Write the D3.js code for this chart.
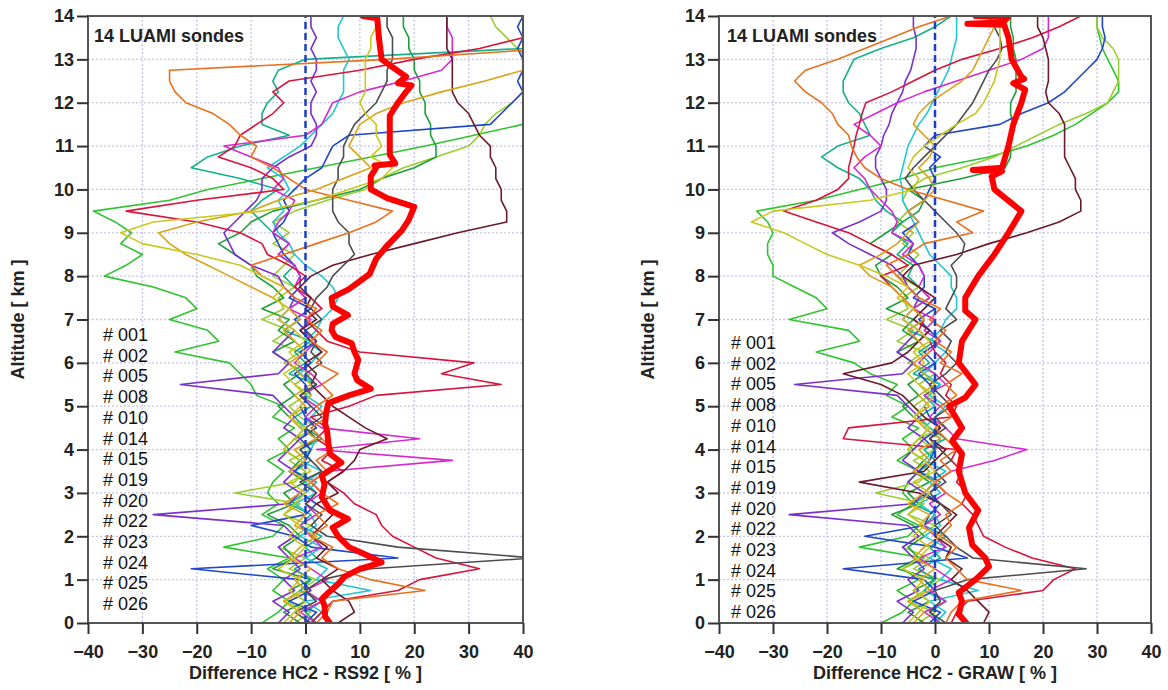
<!DOCTYPE html>
<html>
<head>
<meta charset="utf-8">
<style>
    body { margin: 0; background: #fff; }
    text { font-family: "Liberation Sans", Arial, sans-serif; }
    .tick text { font-size: 18px; font-weight: bold; fill: #222; }
    .tick line { stroke: #333; stroke-width: 2; }
    .domain { display: none; }
</style>
</head>
<body>
<svg width="1168" height="690"></svg>
<script src="https://d3js.org/d3.v7.min.js"></script>
<script>

    // altitude levels [km] shared by every sonde profile
    var altitude = [0,0.25,0.5,0.75,1,1.25,1.5,1.75,2,2.25,2.5,2.75,3,3.25,3.5,3.75,4,4.25,4.5,4.75,5,5.25,5.5,5.75,6,6.25,6.5,6.75,7,7.25,7.5,7.75,8,
        8.25,8.5,8.75,9,9.25,9.5,9.75,10,10.25,10.5,10.75,11,11.25,11.5,11.75,12,12.25,12.5,12.75,13,13.25,13.5,13.75,14];

    var sondes = ["# 001","# 002","# 005","# 008","# 010","# 014","# 015","# 019","# 020","# 022","# 023","# 024","# 025","# 026"];
    var colors = ["#2fc42f","#9acd32","#1f9e3a","#14b08a","#22c8d0","#1f47c8","#7b2fd0","#d62ad0","#d8143c","#6b1a2a","#4d4d4d","#e8701e","#d9a31a","#c8c820"];

    var xTicks = [-40,-30,-20,-10,0,10,20,30,40];
    var yTicks = [0,1,2,3,4,5,6,7,8,9,10,11,12,13,14];

    // HC2 - RS92 differences [%]
    var rs92_001 = [-8,-5,-3,-6,-4,-7,-3,-15,-6,-4,-8,-5,-7,-6,-4,-7,-3,-5,-2,-6,-4,-9,-10,-12,-14,-24,-16,-18,-25,-20,-22,-28,-37,
        -33,-30,-34,-32,-35,-39,-25,-18,-8,2,12,22,31,40,46,46,46,46,46,46,46,46,46,46];
    var rs92_002 = [-2,1,-4,-1,2,-3,0,-5,-2,1,-4,-1,-13,-2,0,-3,1,-2,2,-1,-3,0,-2,1,-4,-1,-6,-3,-8,-4,-5,-2,-6,
        -4,-2,-6,-3,-6,-2,4,11,14,18,24,30,32,33,35,38,40,41,42,41,39,37,35,34];
    var rs92_005 = [-1,-4,0,-3,1,-6,-2,-4,-1,-3,-7,-2,-4,0,-3,-1,-4,-2,0,-3,-5,-2,-4,-1,-3,-6,-2,-5,-3,-8,-4,-6,-9,
        -10,-13,-16,-12,-10,-6,2,10,14,20,24,24,23,23,22,22,21,21,20,20,19,19,18,18];
    var rs92_008 = [2,0,3,-1,1,-2,2,0,3,-1,1,-3,0,2,-2,1,-1,3,0,-2,1,-1,2,-3,0,-2,1,-4,-1,-3,0,-2,-4,
        -2,-5,-3,-6,-8,-10,-8,-5,-12,-21,-18,-12,-3,-8,-8,-7,-5,-6,-5,0,40,46,46,46];
    var rs92_010 = [1,3,0,12,2,4,0,3,-1,2,1,-2,2,0,3,-1,1,2,-1,1,3,0,2,-1,1,3,0,2,3,5,6,5,3,
        0,-2,-3,-5,-6,-4,-5,-3,-4,-7,-4,-1,1,3,5,6,7,7,7,8,7,6,6,7];
    var rs92_014 = [0,2,-3,1,-1,-21,17,1,-2,-10,0,2,-1,1,-2,0,1,-1,2,0,-1,1,0,-2,1,-1,2,0,-2,1,-3,-1,-1,
        -2,-4,-5,-6,-4,-3,-4,-2,0,3,4,5,8,34,36,38,40,39,40,40,39,40,39,40];
    var rs92_015 = [-5,-3,-6,-2,-4,-1,-3,-5,-2,-4,-28,-3,-1,-4,-2,-5,-3,-1,-4,-2,-4,-6,-23,-5,-3,-6,-4,-2,-5,-3,-2,-4,-5,
        -10,-13,-14,-15,-13,-11,-9,-8,-8,-6,-3,1,2,2,1,1,2,1,2,2,1,2,1,1];
    var rs92_019 = [2,-1,3,0,4,1,-2,3,1,-1,2,0,3,1,4,27,2,21,3,0,2,-1,3,1,-2,0,2,-1,1,-3,0,-2,-1,
        -2,-5,-3,-6,-5,-3,-2,-6,-4,-5,-10,-15,0,3,4,5,10,18,25,27,27,27,26,26];
    var rs92_020 = [1,3,5,17,21,32,24,20,16,14,13,9,7,4,7,3,5,2,4,1,8,13,36,25,31,10,4,2,0,3,1,-2,0,
        -3,-7,-8,-12,-20,-33,-20,-4,-6,-10,-16,-13,-12,-9,-6,-4,-6,-3,10,20,32,40,46,46];
    var rs92_022 = [6,9,8,5,3,6,2,4,1,3,5,2,6,4,7,9,10,15,11,8,5,3,1,2,0,3,1,-1,2,0,1,-1,1,
        5,12,20,28,37,37,36,36,35,35,34,34,32,31,30,28,27,27,27,27,26,26,26,26];
    var rs92_023 = [1,-2,2,0,3,12,42,17,4,1,3,0,2,-1,3,1,-1,2,0,3,1,-1,2,0,3,1,2,0,3,1,2,4,5,
        7,9,8,8,6,5,5,5,6,6,7,7,8,9,11,13,14,15,15,16,16,16,15,15];
    var rs92_024 = [2,4,5,22,12,6,3,5,1,4,2,6,3,1,4,2,5,3,1,4,2,5,3,6,2,4,1,3,0,2,-2,-4,-8,
        -10,-4,2,8,13,16,8,0,-3,-6,-10,-9,-12,-14,-17,-22,-24,-25,-25,15,45,46,46,46];
    var rs92_025 = [-3,-1,-4,0,-2,1,-3,-1,2,-2,0,-4,-1,1,-3,0,-2,2,-1,-3,0,-2,1,-1,-3,0,-2,-4,-1,-3,-6,-10,-14,
        -18,-22,-25,-27,-20,-10,-5,2,7,12,10,8,9,10,13,18,25,33,40,46,46,46,46,46];
    var rs92_026 = [-4,-2,0,-3,-1,-5,-2,0,-3,-1,-4,-2,0,-3,1,-1,-4,-2,0,-3,-1,1,-2,-4,-1,-3,0,-2,-5,-3,-6,-4,-8,
        -12,-20,-30,-34,-28,-8,2,8,14,16,12,14,13,13,11,10,11,11,11,11,12,12,13,13];

    var rs92_mean_alt = [0,0.15,0.4,0.55,0.7,0.9,1.07,1.25,1.4,1.55,1.75,2,2.2,2.4,2.6,2.9,3.2,3.4,3.7,3.9,4.15,4.4,4.6,4.85,5.07,5.25,5.4,5.6,5.75,6.07,6.25,6.45,6.6,6.75,6.9,7.1,7.3,7.5,7.7,
        8.05,8.4,8.7,9.05,9.3,9.6,9.8,10,10.3,10.5,10.55,10.6,10.8,11,11.4,11.7,12,12.25,12.4,12.45,12.6,13,13.5,13.95,14];
    var rs92_mean = [4.5,3.6,3.5,3,4.2,6,7.2,10,14,11.5,8,6,5,7.8,4.5,3,3.5,3,6.6,4.5,4.2,4,3.6,3.8,4.2,8,12,9.5,9,9.7,9,8.5,5.5,4.8,5,7.8,5,4.8,8,
        11.8,13,15,17.7,19,20,15,12,12,13,12.7,16.5,15.5,15.5,15.5,15.5,17,18.5,19.5,17,18.5,14,13.5,13.2,10.5];

    // HC2 - GRAW differences [%]
    var graw_001 = [-10,-6,-4,-7,-3,-6,-2,-14,-5,-3,-7,-4,-6,-5,-3,-7,-4,-6,-3,-8,-5,-9,-7,-12,-15,-22,-14,-16,-27,-20,-22,-26,-30,
        -30,-31,-31,-30,-31,-33,-22,-14,-6,0,10,17,22,26,29,32,34,34,33,32,31,30.5,30,30];
    var graw_002 = [-3,0,-5,-2,1,-4,-1,-6,-3,0,-5,-2,-11,-3,-1,-4,0,-3,1,-2,-4,-1,-3,0,-5,-2,-7,-4,-9,-5,-6,-3,-7,
        -5,-3,-6,-4,-7,-5,-6,-5,-2,5,11,15,19,23,28,32,33,34,34,34,33,31,30,30];
    var graw_005 = [-2,-5,-1,-4,0,-7,-3,-5,-2,-4,-8,-3,-5,-1,-4,-2,-5,-3,-1,-4,-6,-3,-5,-2,-4,-7,-3,-6,-4,-9,-5,-7,-10,
        -11,-8,-12,-9,-6,-3,-2,-5,5,13,14,14,14,14.5,14,14,15,15,15,15,14.5,14.5,14,14];
    var graw_008 = [1,-1,2,-2,0,-3,1,-1,2,-2,0,-4,-1,1,-3,0,-2,2,-1,-3,0,-2,1,-4,-1,-3,0,-5,-2,-4,-1,-3,-5,
        -4,-7,-5,-8,-6,-9,-11,-12,-14,-18,-21,-18,-12,-13,-14,-16,-17,-17,-16,-15,-10,-4,0,3];
    var graw_010 = [0,2,-1,8,1,3,-1,2,-2,1,0,-3,1,-1,2,-2,0,1,-2,0,2,-1,1,-2,0,2,-1,1,2,4,4,3,3,
        1,-1,-2,-3,-4,-5,-6,-6,-6.5,-6,-5.5,-5,-4,-3,-1.5,-0.5,0.5,1.5,2.5,3,3.5,4,4,4];
    var graw_014 = [-1,1,-4,0,-2,-17,6,0,-13,-2,-1,1,-2,0,-3,-1,0,-2,1,-1,-2,0,-1,-3,0,-2,1,-1,-3,0,-4,-2,-2,
        -3,-5,-4,-6,-3,-5,-2,-1,0,-1,1,-2,0,12,16,21,24,26,28,30,31,31.5,31,31];
    var graw_015 = [-6,-4,-7,-3,-5,-2,-4,-6,-3,-5,-27,-4,-2,-5,-3,-6,-4,-2,-5,-3,-5,-7,-26,-6,-4,-7,-5,-3,-6,-4,-3,-5,-6,
        -8,-12,-16,-19,-14,-10,-9,-9,-10,-11,-11,-10,-9.5,-8.5,-8,-7,-6,-5.5,-4.5,-4,-3.5,-3.5,-4,-4];
    var graw_019 = [1,-2,2,-1,3,0,-3,2,0,-2,1,-1,2,0,3,11,17,4,2,-1,1,-2,2,0,-3,-1,1,-2,0,-4,-1,-3,-2,
        -3,-6,-4,-8,-7,-8,-10,-12,-13,-15,-13,-10,-12,-15,-11,-7,-2,4,10,16,20,21,21,21];
    var graw_020 = [3,4,6,20,22,26,18,13,9,8,7,5,6,4,5,3,4,-17,-16,3,4,2,3,1,2,0,-1,-3,-2,-4,-6,-8,-10,
        -5,-8,-12,-16,-22,-28,-22,-18,-16,-16,-15.5,-15,-14.6,-14,-13.5,-12.8,-8,-4,0,5,12,18,23,27];
    var graw_022 = [9,10,8,6,3,5,2,3,0,2,4,1,-3,-14,-2,0,2,-1,1,-2,-4,-6,-10,-17,-8,-5,-3,-1,-4,-2,0,-3,-6,
        -4,4,10,17,23,27,27,26,26,25,24,24,24,24,23,21,20.5,21,21,21,20.5,20,19,19];
    var graw_023 = [2,-1,1,0,6,28,7,4,2,0,3,1,-1,2,0,3,1,-1,2,0,3,1,-1,2,4,2,3,1,4,2,3,4,4,
        3,5,5.5,4,2,0,-2,-4,-5.5,-4,-2,0,2,4,5.5,7,8,9,10,11.5,12.4,12,11,10];
    var graw_024 = [2,3,5,16,6,4,2,4,1,3,2,5,2,0,3,1,4,2,0,3,1,4,2,5,1,3,0,2,-1,1,-3,-5,-7,
        -9,-5,-2,7,4,9,2,-5,-10,-13,-14.5,-15.5,-16,-18,-19,-21,-24,-26,-24,-18,-13,-8,-3,3];
    var graw_025 = [-4,-2,-5,-1,-3,0,-4,-2,1,-3,-1,-5,-2,0,-4,-1,-3,1,-2,-4,-1,-3,0,-2,-4,-1,-3,-5,-2,-4,-6,-8,-12,
        -14,-10,-7,-5,-3,-5,-2,0,-1,-3,-1,0,-2,-4,-3,-1,2,5,7,8,9,10,11,12];
    var graw_026 = [-5,-3,-1,-4,-2,-6,-3,-1,-4,-2,-5,-3,-1,-4,0,-2,-5,-3,-1,-4,-2,0,-3,-5,-2,-4,-1,-3,-6,-4,-7,-5,-9,
        -14,-20,-24,-28,-34,-30,-12,-4,-3,-5,-4,-2,1,4,7.5,9,10,11,11.5,12,12,12,12,12];

    var graw_mean_alt = [0,0.2,0.5,0.7,1,1.3,1.5,1.8,2.2,2.6,3,3.5,3.9,4.2,4.5,5,5.2,5.5,6,6.5,7,7.2,7.5,8,8.5,9,9.5,10,10.3,10.42,10.45,10.5,
        11,11.5,12,12.3,12.45,12.55,12.6,13,13.5,13.8,13.82,13.85,13.97,14];
    var graw_mean = [5.8,4.4,5,4.4,7.5,10,9.3,6.9,6.3,8,5.6,4.4,5,3.2,5,2.6,5.6,7.5,4.4,5,7.5,5.6,5.6,8,11,13.6,16,11,10.5,12.4,7,12.4,
        13.6,14.5,16,16.7,14.5,16.5,16,14.2,13.6,12.8,6,12.6,13.5,7.5];

    var svg = d3.select("svg"),
        plotTop = 16,
        plotBottom = 623;

    var panels = [
        {left: 88, right: 523, series: [rs92_001,rs92_002,rs92_005,rs92_008,rs92_010,rs92_014,rs92_015,rs92_019,rs92_020,rs92_022,rs92_023,rs92_024,rs92_025,rs92_026],
            meanAlt: rs92_mean_alt, mean: rs92_mean, xTitle: "Difference HC2 - RS92 [ % ]", yTitleX: 24, legendX: 103, legendY: 341, headX: 94},
        {left: 719, right: 1151, series: [graw_001,graw_002,graw_005,graw_008,graw_010,graw_014,graw_015,graw_019,graw_020,graw_022,graw_023,graw_024,graw_025,graw_026],
            meanAlt: graw_mean_alt, mean: graw_mean, xTitle: "Difference HC2 - GRAW [ % ]", yTitleX: 654, legendX: 731, legendY: 349, headX: 727}
    ];

    panels.forEach(function(p, pi) {
        var x = d3.scaleLinear().domain([-40, 40]).range([p.left, p.right]);
        var y = d3.scaleLinear().domain([0, 14]).range([plotBottom, plotTop]);
        var g = svg.append("g");

        svg.append("clipPath").attr("id", "clip" + pi)
            .append("rect")
            .attr("x", p.left).attr("y", plotTop)
            .attr("width", p.right - p.left).attr("height", plotBottom - plotTop);

        // dotted grid
        g.append("g").selectAll("line")
            .data(xTicks.slice(1, -1))
            .enter().append("line")
            .attr("x1", function(d) { return x(d); }).attr("x2", function(d) { return x(d); })
            .attr("y1", plotTop).attr("y2", plotBottom)
            .attr("stroke", "#c4c4ee").attr("stroke-width", 1.3).attr("stroke-dasharray", "2,2");
        g.append("g").selectAll("line")
            .data(yTicks.slice(1, -1))
            .enter().append("line")
            .attr("y1", function(d) { return y(d); }).attr("y2", function(d) { return y(d); })
            .attr("x1", p.left).attr("x2", p.right)
            .attr("stroke", "#c4c4ee").attr("stroke-width", 1.3).attr("stroke-dasharray", "2,2");

        var line = d3.line()
            .x(function(d) { return x(d[1]); })
            .y(function(d) { return y(d[0]); });

        var plot = g.append("g").attr("clip-path", "url(#clip" + pi + ")");

        plot.selectAll(".sonde")
            .data(p.series)
            .enter().append("path")
            .attr("class", "sonde")
            .attr("fill", "none")
            .attr("stroke", function(d, i) { return colors[i]; })
            .attr("stroke-width", 1.6)
            .attr("stroke-linejoin", "round")
            .attr("d", function(s) { return line(s.map(function(v, i) { return [altitude[i], v]; })); });

        plot.append("line")
            .attr("x1", x(0)).attr("x2", x(0))
            .attr("y1", y(0)).attr("y2", y(14))
            .attr("stroke", "#1d3fc4").attr("stroke-width", 2.5)
            .attr("stroke-dasharray", "7,4");

        plot.append("path")
            .datum(p.meanAlt.map(function(a, i) { return [a, p.mean[i]]; }))
            .attr("fill", "none")
            .attr("stroke", "#ff0000")
            .attr("stroke-width", 6)
            .attr("stroke-linejoin", "round")
            .attr("stroke-linecap", "round")
            .attr("d", line);

        // frame
        g.append("rect")
            .attr("x", p.left).attr("y", plotTop)
            .attr("width", p.right - p.left).attr("height", plotBottom - plotTop)
            .attr("fill", "none").attr("stroke", "#555").attr("stroke-width", 2);

        g.append("g")
            .attr("transform", "translate(" + p.left + ",0)")
            .call(d3.axisLeft(y).tickValues(yTicks).tickSize(11).tickPadding(3));
        g.append("g")
            .attr("transform", "translate(0," + plotBottom + ")")
            .call(d3.axisBottom(x).tickValues(xTicks).tickSize(11).tickPadding(11));

        g.append("text")
            .attr("x", x(0)).attr("y", 679)
            .attr("text-anchor", "middle")
            .style("font-size", "18px").style("font-weight", "bold").style("fill", "#222")
            .text(p.xTitle);

        g.append("text")
            .attr("transform", "translate(" + p.yTitleX + "," + ((plotTop + plotBottom) / 2) + ") rotate(-90)")
            .attr("text-anchor", "middle")
            .style("font-size", "18px").style("font-weight", "bold").style("fill", "#222")
            .text("Altitude [ km ]");

        g.append("text")
            .attr("x", p.headX).attr("y", 42)
            .style("font-size", "18px").style("font-weight", "bold").style("fill", "#222")
            .text("14 LUAMI sondes");

        g.append("g").selectAll("text")
            .data(sondes)
            .enter().append("text")
            .attr("x", p.legendX)
            .attr("y", function(d, i) { return p.legendY + i * 20.7; })
            .style("font-size", "18px").style("fill", "#111")
            .text(function(d) { return d; });
    });

</script>
</body>
</html>
